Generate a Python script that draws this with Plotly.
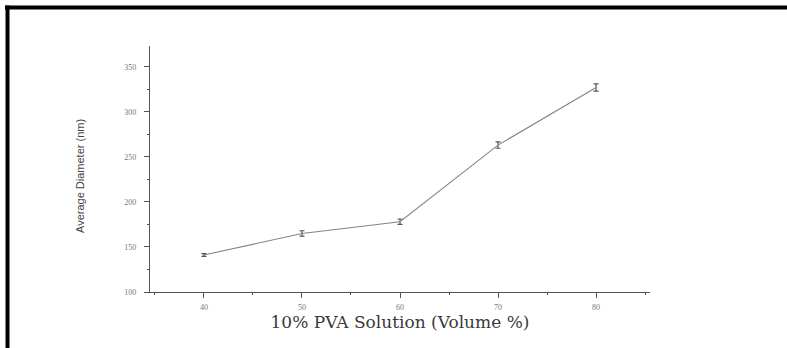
import plotly.graph_objects as go

# PVA solution volume fraction vs. mean fibre diameter
volume_pct = [40, 50, 60, 70, 80]
avg_diameter = [141, 165, 178, 263, 327]
diameter_err = [1.5, 3, 3, 3.5, 4]

x_ticks = [40, 50, 60, 70, 80]
y_ticks = [100, 150, 200, 250, 300, 350]

W, H = 787, 348
L, R, T, B = 150, 137, 46, 56
pw, ph = W - L - R, H - T - B


def px(x):
    return (x - L) / pw


def py(y):
    return 1 - (y - T) / ph


fig = go.Figure()
fig.add_trace(go.Scatter(
    x=volume_pct, y=avg_diameter,
    mode="lines",
    line=dict(color="#858585", width=1.1),
    error_y=dict(type="data", array=diameter_err, visible=True,
                 color="#555555", thickness=1.2, width=2.5),
    showlegend=False,
))

axis_common = dict(
    showgrid=False, zeroline=False, showline=True,
    linecolor="#555555", linewidth=1.2,
    ticks="outside", ticklen=5, tickwidth=1, tickcolor="#555555",
    tickfont=dict(family="Liberation Serif, Times New Roman, serif", size=8, color="#777777"),
)

fig.update_xaxes(
    range=[34.5, 85.5], tickvals=x_ticks,
    minor=dict(ticks="outside", ticklen=2, tickcolor="#555555", dtick=5, tick0=35),
    title=dict(text="10% PVA Solution (Volume %)", standoff=5,
               font=dict(family="DejaVu Serif, serif", size=17, color="#3a3a3a")),
    ticklabelstandoff=2,
    **axis_common,
)
fig.update_yaxes(
    range=[100, 373], tickvals=y_ticks,
    minor=dict(ticks="outside", ticklen=2, tickcolor="#555555", dtick=25, tick0=100),
    ticklabelstandoff=6,
    **axis_common,
)

# rotated y-axis caption placed beside the tick labels
fig.add_annotation(
    text="Average Diameter (nm)", textangle=-90,
    xref="paper", yref="paper", x=px(80), y=py(176),
    xanchor="center", yanchor="middle", showarrow=False,
    font=dict(family="Liberation Sans Narrow, Arial Narrow, Liberation Sans, sans-serif",
              size=11, color="#444444"),
)

# thick black frame along the top and left edges
fig.add_shape(type="line", xref="paper", yref="paper",
              x0=px(5), x1=px(W + 5), y0=py(7.5), y1=py(7.5),
              line=dict(color="black", width=4))
fig.add_shape(type="line", xref="paper", yref="paper",
              x0=px(7.5), x1=px(7.5), y0=py(5.5), y1=py(H + 5),
              line=dict(color="black", width=4))

fig.update_layout(
    width=W, height=H,
    margin=dict(l=L, r=R, t=T, b=B),
    paper_bgcolor="white", plot_bgcolor="white",
)

fig.write_html("out.html")
